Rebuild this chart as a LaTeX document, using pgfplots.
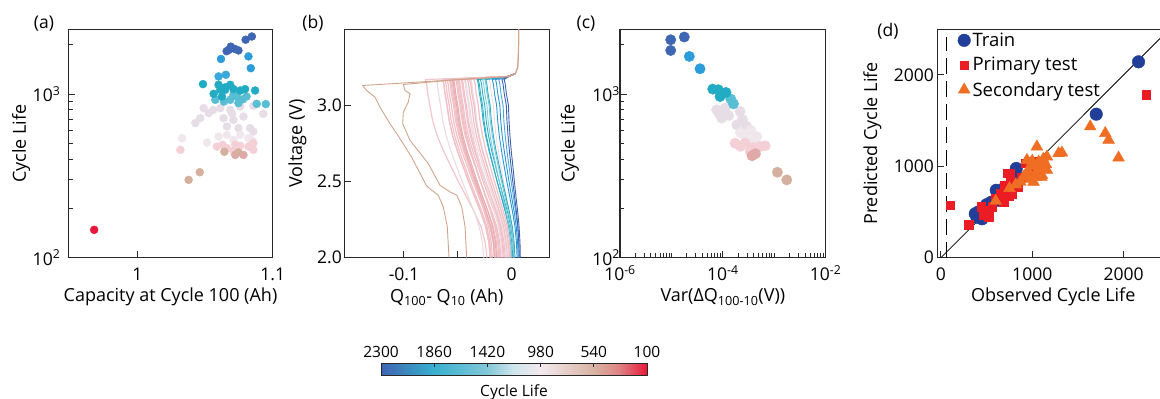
\documentclass[border=0pt]{standalone}
\usepackage{fontspec}
\setmainfont{Open Sans}
\usepackage{pgfplots}
\usepackage{pgfplotstable}
\pgfplotsset{compat=1.18}

\definecolor{cDB}{RGB}{63,102,178}
\definecolor{cB}{RGB}{44,156,218}
\definecolor{cBtwo}{RGB}{58,168,218}
\definecolor{cT}{RGB}{34,172,196}
\definecolor{cLT}{RGB}{88,190,212}
\definecolor{cLav}{RGB}{231,221,231}
\definecolor{cWh}{RGB}{240,231,237}
\definecolor{cPk}{RGB}{244,207,214}
\definecolor{cRose}{RGB}{224,168,166}
\definecolor{cTan}{RGB}{213,176,158}
\definecolor{cRed}{RGB}{232,23,59}
\definecolor{lPkL}{RGB}{241,198,204}
\definecolor{lPale}{RGB}{238,220,226}
\definecolor{lPk}{RGB}{242,192,199}
\definecolor{lRose}{RGB}{232,176,178}
\definecolor{lT}{RGB}{43,174,198}
\definecolor{lLT}{RGB}{125,202,217}
\definecolor{lB}{RGB}{42,148,212}
\definecolor{lLB}{RGB}{74,168,220}
\definecolor{lDB}{RGB}{60,99,176}
\definecolor{lBr}{RGB}{210,164,140}
\definecolor{dTrain}{RGB}{33,63,153}
\definecolor{dPrim}{RGB}{236,28,36}
\definecolor{dSec}{RGB}{240,110,35}
\definecolor{frame}{RGB}{40,40,40}

\pgfplotstableread{
V c1 c2 c3 c4 c5 c6 c7 c8 c9 c10 c11 c12 c13 c14 c15 c16 c17 c18 c19 c20 c21 c22 c23 c24 c25
3.50 0.0065 0.0065 0.0065 0.0065 0.0065 0.0065 0.0065 0.0065 0.0065 0.0065 0.0065 0.0065 0.0065 0.0065 0.0065 0.0065 0.0065 0.0065 0.0065 0.0065 0.0065 0.0065 0.0065 0.0065 0.0065
3.35 0.0063 0.0063 0.0063 0.0063 0.0063 0.0063 0.0063 0.0063 0.0063 0.0063 0.0063 0.0063 0.0063 0.0063 0.0063 0.0063 0.0063 0.0063 0.0063 0.0063 0.0063 0.0063 0.0063 0.0063 0.0063
3.25 0.0056 0.0056 0.0056 0.0056 0.0056 0.0056 0.0056 0.0056 0.0056 0.0056 0.0056 0.0056 0.0056 0.0056 0.0056 0.0056 0.0056 0.0056 0.0056 0.0056 0.0056 0.0056 0.0056 0.0056 0.0056
3.21 0.0035 0.0035 0.0035 0.0035 0.0035 0.0035 0.0035 0.0035 0.0035 0.0035 0.0035 0.0035 0.0035 0.0035 0.0035 0.0035 0.0035 0.0035 0.0035 0.0035 0.0035 0.0035 0.0035 0.0035 0.0035
3.19 -0.003 -0.003 -0.003 -0.003 -0.003 -0.003 -0.003 -0.003 -0.003 -0.003 -0.003 -0.003 -0.003 -0.003 -0.003 -0.003 -0.003 -0.003 -0.003 -0.003 -0.003 -0.003 -0.003 -0.003 -0.003
3.17 -0.080 -0.070 -0.064 -0.060 -0.057 -0.054 -0.052 -0.049 -0.046 -0.044 -0.041 -0.038 -0.035 -0.032 -0.029 -0.027 -0.024 -0.021 -0.018 -0.015 -0.012 -0.009 -0.007 -0.056 -0.050
3.14 -0.079 -0.069 -0.063 -0.059 -0.056 -0.053 -0.051 -0.048 -0.045 -0.043 -0.040 -0.037 -0.034 -0.031 -0.028 -0.026 -0.023 -0.020 -0.017 -0.014 -0.011 -0.008 -0.006 -0.055 -0.049
3.08 -0.078 -0.068 -0.062 -0.058 -0.055 -0.052 -0.050 -0.047 -0.044 -0.042 -0.039 -0.036 -0.033 -0.030 -0.027 -0.025 -0.022 -0.019 -0.016 -0.013 -0.010 -0.007 -0.005 -0.054 -0.048
3.00 -0.076 -0.066 -0.060 -0.056 -0.053 -0.050 -0.048 -0.045 -0.042 -0.040 -0.037 -0.034 -0.031 -0.028 -0.025 -0.023 -0.020 -0.017 -0.014 -0.011 -0.008 -0.005 -0.003 -0.052 -0.046
2.90 -0.0734 -0.064 -0.058 -0.054 -0.051 -0.0482 -0.0461 -0.0432 -0.0402 -0.0385 -0.0354 -0.0325 -0.0295 -0.0266 -0.0237 -0.0219 -0.0189 -0.016 -0.013 -0.0102 -0.0073 -0.0044 -0.0025 -0.0503 -0.0443
2.80 -0.0691 -0.0608 -0.0548 -0.0508 -0.0478 -0.0453 -0.0431 -0.0402 -0.0373 -0.036 -0.0327 -0.030 -0.0271 -0.0242 -0.0215 -0.020 -0.017 -0.0145 -0.0115 -0.0088 -0.006 -0.0034 -0.0016 -0.0476 -0.0416
2.70 -0.0633 -0.0564 -0.0504 -0.0464 -0.0434 -0.0414 -0.0389 -0.0361 -0.0334 -0.0326 -0.0291 -0.0266 -0.0238 -0.021 -0.0185 -0.0175 -0.0145 -0.0124 -0.0094 -0.0069 -0.0044 -0.0021 -0.0004 -0.0438 -0.0378
2.60 -0.0564 -0.0512 -0.0452 -0.0412 -0.0382 -0.0367 -0.0339 -0.0313 -0.0287 -0.0285 -0.0248 -0.0225 -0.0199 -0.0173 -0.015 -0.0145 -0.0115 -0.010 -0.007 -0.0047 -0.0025 -0.0006 0.0011 -0.0394 -0.0334
2.50 -0.0495 -0.046 -0.040 -0.036 -0.033 -0.032 -0.029 -0.0265 -0.024 -0.0245 -0.0205 -0.0185 -0.016 -0.0135 -0.0115 -0.0115 -0.0085 -0.0075 -0.0045 -0.0025 -0.0005 0.001 0.0025 -0.035 -0.029
2.40 -0.0421 -0.0404 -0.0344 -0.0304 -0.0274 -0.027 -0.0237 -0.0213 -0.019 -0.0202 -0.0159 -0.0142 -0.0118 -0.0094 -0.0077 -0.0083 -0.0053 -0.0048 -0.0018 -0.0001 0.0016 0.0027 0.004 -0.0302 -0.0242
2.30 -0.0347 -0.0348 -0.0288 -0.0248 -0.0218 -0.0219 -0.0184 -0.0161 -0.0139 -0.0158 -0.0113 -0.0098 -0.0076 -0.0054 -0.0039 -0.0051 -0.0021 -0.0022 0.0008 0.0023 0.0037 0.0044 0.0056 -0.0255 -0.0195
2.20 -0.0283 -0.030 -0.024 -0.020 -0.017 -0.0176 -0.0138 -0.0117 -0.0096 -0.0121 -0.0073 -0.0061 -0.004 -0.0019 -0.0007 -0.0023 0.0007 0.0001 0.0031 0.0043 0.0055 0.0058 0.0069 -0.0214 -0.0154
2.10 -0.0246 -0.0272 -0.0212 -0.0172 -0.0142 -0.0151 -0.0111 -0.0091 -0.0071 -0.0099 -0.005 -0.0039 -0.0019 0.0001 0.0012 -0.0007 0.0023 0.0014 0.0044 0.0055 0.0066 0.0066 0.0077 -0.019 -0.013
2.00 -0.023 -0.026 -0.020 -0.016 -0.013 -0.014 -0.010 -0.008 -0.006 -0.009 -0.004 -0.003 -0.001 0.001 0.002 0.000 0.003 0.002 0.005 0.006 0.007 0.007 0.008 -0.018 -0.012
}\curves

\pgfplotstableread{
V d26 d27 d28 d29 d30 d31 d32 d33 d34
3.50 0.0065 0.0065 0.0065 0.0065 0.0065 0.0065 0.0065 0.0065 0.0065
3.35 0.0063 0.0063 0.0063 0.0063 0.0063 0.0063 0.0063 0.0063 0.0063
3.25 0.0056 0.0056 0.0056 0.0056 0.0056 0.0056 0.0056 0.0056 0.0056
3.21 0.0035 0.0035 0.0035 0.0035 0.0035 0.0035 0.0035 0.0035 0.0035
3.19 -0.003 -0.003 -0.003 -0.003 -0.003 -0.003 -0.003 -0.003 -0.003
3.17 -0.062 -0.058 -0.055 -0.051 -0.047 -0.043 -0.039 -0.031 -0.025
3.14 -0.061 -0.057 -0.054 -0.050 -0.046 -0.042 -0.038 -0.030 -0.024
3.08 -0.060 -0.056 -0.053 -0.049 -0.045 -0.041 -0.037 -0.029 -0.023
3.00 -0.058 -0.054 -0.051 -0.047 -0.043 -0.039 -0.035 -0.027 -0.021
2.90 -0.0561 -0.0521 -0.0493 -0.0452 -0.0412 -0.0373 -0.0334 -0.0257 -0.0199
2.80 -0.0529 -0.0489 -0.0465 -0.0423 -0.0383 -0.0346 -0.0307 -0.0235 -0.018
2.70 -0.0486 -0.0446 -0.0426 -0.0384 -0.0344 -0.0308 -0.0271 -0.0205 -0.0155
2.60 -0.0436 -0.0396 -0.0381 -0.0337 -0.0297 -0.0264 -0.0228 -0.017 -0.0125
2.50 -0.0385 -0.0345 -0.0335 -0.029 -0.025 -0.022 -0.0185 -0.0135 -0.0095
2.40 -0.0330 -0.0290 -0.0286 -0.024 -0.020 -0.0172 -0.0139 -0.0097 -0.0063
2.30 -0.0276 -0.0236 -0.0237 -0.0189 -0.0149 -0.0125 -0.0093 -0.0059 -0.0031
2.20 -0.0229 -0.0189 -0.0195 -0.0146 -0.0106 -0.0084 -0.0053 -0.0027 -0.0003
2.10 -0.0202 -0.0162 -0.0170 -0.0121 -0.0081 -0.006 -0.003 -0.0008 0.0013
2.00 -0.019 -0.015 -0.016 -0.011 -0.007 -0.005 -0.002 0.000 0.002
}\curvesb

\pgfplotsset{
  myax/.style={
    scale only axis, anchor=south west,
    axis line style={frame, line width=1.1pt},
    tick style={frame, line width=1pt},
    tick align=inside, tick pos=left,
    major tick length=7pt, minor tick length=4.5pt,
    tick label style={font=\fontsize{17.5}{19}\selectfont, text=black},
    label style={font=\fontsize{18}{21}\selectfont},
    xticklabel style={anchor=base, yshift=-23pt},
    xlabel style={at={(axis description cs:0.5,-0.172)}, anchor=center},
  },
  lc/.style={line width=0.9pt, #1, restrict y to domain=1.9:3.22},
  lp/.style={line width=1.2pt, #1, restrict y to domain=1.9:3.22},
}

\begin{document}
\begin{tikzpicture}
\useasboundingbox (0,0) rectangle (1160pt,399pt);

% ---------------- (a)
\begin{axis}[myax, at={(68.3pt,141.3pt)}, width=204.4pt, height=228.4pt,
  xmin=0.949, xmax=1.1, ymode=log, ymin=100, ymax=2490,
  xtick={1,1.1}, xticklabels={1,1.1},
  ytick={100,1000}, yticklabels={10\textsuperscript{2},10\textsuperscript{3}},
  minor ytick={200,300,400,500,600,700,800,900,2000},
  yticklabel style={xshift=-4.5pt},
  xlabel={Capacity at Cycle 100 (Ah)}, ylabel={Cycle Life},
  ylabel style={at={(axis description cs:-0.231,0.5)}, anchor=center},
]
\addplot[only marks, mark=*, mark size=4pt, color=cLav] coordinates {
(1.0490,821) (1.0527,765) (1.0613,821) (1.0686,802) (1.0760,840) (1.0857,848) (1.0931,758) (1.0465,713) (1.0429,665) (1.0637,713) (1.0710,696) (1.0784,729) (1.0833,620) (1.0747,620) (1.0662,634) (1.0857,590) (1.0560,800) (1.0700,760)};
\addplot[only marks, mark=*, mark size=4pt, color=cWh] coordinates {
(1.0600,550) (1.0662,563) (1.0760,563) (1.0821,538) (1.0515,506) (1.0331,538) (1.0710,525) (1.0850,520)};
\addplot[only marks, mark=*, mark size=4pt, color=cPk] coordinates {
(1.0318,456) (1.0588,478) (1.0662,467) (1.0723,490) (1.0760,483) (1.0821,478) (1.0857,501) (1.0857,456) (1.0710,452) (1.0630,490)};
\addplot[only marks, mark=*, mark size=4pt, color=cRose] coordinates {(1.0723,425) (1.0784,425)};
\addplot[only marks, mark=*, mark size=4pt, color=cTan] coordinates {(1.0643,444) (1.0747,440) (1.0461,333) (1.0379,299)};
\addplot[only marks, mark=*, mark size=4pt, color=cLT] coordinates {
(1.0710,990) (1.0807,967) (1.0735,967) (1.0686,923) (1.0576,923) (1.0747,881) (1.0882,872) (1.0949,869) (1.0780,930) (1.0640,900)};
\addplot[only marks, mark=*, mark size=4pt, color=cT] coordinates {
(1.0485,1151) (1.0600,1140) (1.0613,1063) (1.0686,1140) (1.0710,1073) (1.0649,1063) (1.0760,1052) (1.0796,1073) (1.0870,1052) (1.0564,1004) (1.0625,967) (1.0650,1100)};
\addplot[only marks, mark=*, mark size=4pt, color=cBtwo] coordinates {(1.0600,1282) (1.0654,1313)};
\addplot[only marks, mark=*, mark size=4pt, color=cB] coordinates {(1.0821,1700) (1.0618,1640) (1.0838,1440)};
\addplot[only marks, mark=*, mark size=4pt, color=cDB] coordinates {
(1.0846,2250) (1.0800,2150) (1.0690,1950) (1.0674,1860) (1.0720,1890) (1.0747,1850) (1.0660,1830)};
\addplot[only marks, mark=*, mark size=4pt, color=cRed] coordinates {(0.9681,148)};
\end{axis}

% ---------------- (b)
\begin{axis}[myax, at={(344.3pt,141.3pt)}, width=205pt, height=228.4pt,
  xmin=-0.1554, xmax=0.0349, ymin=2, ymax=3.5,
  xtick={-0.1,-0.05,0}, xticklabels={-0.1,,0},
  ytick={2,2.5,3}, yticklabels={2.0,2.5,3.0},
  yticklabel style={xshift=1pt},
  xlabel={Q\textsubscript{100}- Q\textsubscript{10} (Ah)}, ylabel={Voltage (V)},
  ylabel style={at={(axis description cs:-0.229,0.5)}, anchor=center},
]
\addplot[lp=lPkL] table[x=c1,y=V] {\curves};
\addplot[lp=lPale] table[x=c2,y=V] {\curves};
\addplot[lp=lPk] table[x=c3,y=V] {\curves};
\addplot[lp=lPk] table[x=d26,y=V] {\curvesb};
\addplot[lp=lPk] table[x=c4,y=V] {\curves};
\addplot[lp=lPk] table[x=c24,y=V] {\curves};
\addplot[lp=lPk] table[x=d27,y=V] {\curvesb};
\addplot[lp=lPk] table[x=c5,y=V] {\curves};
\addplot[lp=lRose] table[x=d28,y=V] {\curvesb};
\addplot[lp=lRose] table[x=c6,y=V] {\curves};
\addplot[lp=lPk] table[x=c7,y=V] {\curves};
\addplot[lp=lPk] table[x=d29,y=V] {\curvesb};
\addplot[lp=lPk] table[x=c25,y=V] {\curves};
\addplot[lp=lPk] table[x=c8,y=V] {\curves};
\addplot[lp=lPk] table[x=d30,y=V] {\curvesb};
\addplot[lp=lPk] table[x=c9,y=V] {\curves};
\addplot[lp=lPale] table[x=c10,y=V] {\curves};
\addplot[lp=lPale] table[x=d31,y=V] {\curvesb};
\addplot[lp=lPk] table[x=c11,y=V] {\curves};
\addplot[lp=lPale] table[x=c12,y=V] {\curves};
\addplot[lp=lPk] table[x=d32,y=V] {\curvesb};
\addplot[lp=lPk] table[x=c13,y=V] {\curves};
\addplot[lc=lPale] table[x=c18,y=V] {\curves};
\addplot[lc=lT] table[x=c14,y=V] {\curves};
\addplot[lc=lT] table[x=d33,y=V] {\curvesb};
\addplot[lc=lT] table[x=c15,y=V] {\curves};
\addplot[lc=lLT] table[x=c16,y=V] {\curves};
\addplot[lc=lLT] table[x=d34,y=V] {\curvesb};
\addplot[lc=lT] table[x=c17,y=V] {\curves};
\addplot[lc=lB] table[x=c19,y=V] {\curves};
\addplot[lc=lB] table[x=c20,y=V] {\curves};
\addplot[lc=lLB] table[x=c21,y=V] {\curves};
\addplot[lc=lDB] table[x=c22,y=V] {\curves};
\addplot[lc=lDB] table[x=c23,y=V] {\curves};
\addplot[line width=1.1pt, color=lPk] table[x=c3,y=V] {\curves};
\addplot[line width=0.9pt, color=lBr] coordinates {
(0.0065,3.5) (0.0063,3.35) (0.0056,3.25) (0.0035,3.21) (-0.003,3.19) (-0.06,3.165) (-0.1384,3.131) (-0.1347,3.098) (-0.1269,3.054) (-0.1238,3.011) (-0.1223,2.989) (-0.113,2.88) (-0.1053,2.80) (-0.0929,2.66) (-0.0789,2.47) (-0.0682,2.41) (-0.0635,2.334) (-0.0598,2.203) (-0.0582,2.0)};
\addplot[line width=0.9pt, color=lBr] coordinates {
(0.0065,3.5) (0.0063,3.35) (0.0056,3.25) (0.0035,3.21) (-0.003,3.19) (-0.05,3.17) (-0.1006,3.1375) (-0.0991,3.098) (-0.0944,3.077) (-0.096,3.022) (-0.1006,2.956) (-0.1012,2.88) (-0.0944,2.771) (-0.0774,2.618) (-0.0666,2.476) (-0.0573,2.432) (-0.051,2.411) (-0.0464,2.334) (-0.0433,2.203) (-0.0418,2.0)};
\end{axis}

% ---------------- (c)
\begin{axis}[myax, at={(620pt,141.3pt)}, width=205.7pt, height=228.4pt,
  xmode=log, ymode=log, xmin=1e-6, xmax=1e-2, ymin=100, ymax=2490,
  xtick={1e-6,1e-4,1e-2}, xticklabels={10\textsuperscript{-6},10\textsuperscript{-4},10\textsuperscript{-2}},
  minor xtick={2e-6,3e-6,4e-6,5e-6,6e-6,7e-6,8e-6,9e-6,1e-5,2e-5,3e-5,4e-5,5e-5,6e-5,7e-5,8e-5,9e-5,2e-4,3e-4,4e-4,5e-4,6e-4,7e-4,8e-4,9e-4,1e-3,2e-3,3e-3,4e-3,5e-3,6e-3,7e-3,8e-3,9e-3},
  ytick={100,1000}, yticklabels={10\textsuperscript{2},10\textsuperscript{3}},
  minor ytick={200,300,400,500,600,700,800,900,2000},
  yticklabel style={xshift=3.5pt},
  xlabel={Var(ΔQ\textsubscript{100-10}(V))}, ylabel={Cycle Life},
  ylabel style={at={(axis description cs:-0.243,0.5)}, anchor=center},
]
\addplot[only marks, mark=*, mark size=5.2pt, color=cLav] coordinates {
(7.6e-5,802) (2.16e-4,783) (9.5e-5,713) (1.87e-4,649) (2.92e-4,634) (8.5e-5,760) (1.3e-4,740) (2.4e-4,700) (1.1e-4,820)};
\addplot[only marks, mark=*, mark size=5.2pt, color=cWh] coordinates {
(2.70e-4,563) (4.57e-4,550) (3.5e-4,600) (2.2e-4,580) (4.0e-4,520)};
\addplot[only marks, mark=*, mark size=5.2pt, color=cPk] coordinates {
(1.73e-4,501) (2.70e-4,501) (5.30e-4,478) (6.64e-4,483) (3.39e-4,446) (3.9e-4,470) (2.2e-4,480)};
\addplot[only marks, mark=*, mark size=5.2pt, color=cRose] coordinates {(4.3e-4,432) (3.7e-4,420)};
\addplot[only marks, mark=*, mark size=5.2pt, color=cTan] coordinates {(1.15e-3,333) (1.75e-3,299)};
\addplot[only marks, mark=*, mark size=5.2pt, color=cLT] coordinates {(1.43e-4,932) (1.61e-4,872)};
\addplot[only marks, mark=*, mark size=5.2pt, color=cT] coordinates {(6.37e-5,1073) (8.17e-5,1063) (1.15e-4,1023) (8.83e-5,967)};
\addplot[only marks, mark=*, mark size=5.2pt, color=cB] coordinates {(2.23e-5,1700) (3.60e-5,1429)};
\addplot[only marks, mark=*, mark size=5.2pt, color=cDB] coordinates {(9.68e-6,2148) (1.78e-5,2234) (9.68e-6,1849)};
\end{axis}

% ---------------- (d)
\begin{axis}[myax, at={(937.3pt,141.3pt)}, width=231.9pt, height=228.4pt,
  xmin=-40, xmax=2500, ymin=0, ymax=2500,
  xtick={0,1000,2000}, xticklabels={0,1000,2000},
  ytick={0,1000,2000}, yticklabels={0,1000,2000},
  yticklabel style={xshift=0pt},
  xlabel={Observed Cycle Life}, ylabel={Predicted Cycle Life},
  ylabel style={at={(axis description cs:-0.280,0.5)}, anchor=center},
  legend style={at={(axis description cs:0.075,1.003)}, anchor=north west, draw=none, fill=none,
    font=\fontsize{18.5}{20}\selectfont, row sep=5.5pt},
  legend cell align=left,
]
\addplot[black, line width=0.8pt, dash pattern=on 16pt off 7pt, forget plot] coordinates {(55,0) (55,2420)};
\addplot[black, line width=0.8pt, forget plot] coordinates {(0,0) (2500,2500)};
\addplot[only marks, mark=*, mark size=6.3pt, color=dTrain] coordinates {
(2164,2144) (1701,1571) (825,977) (861,867) (606,738) (631,628) (559,609) (467,536) (430,481) (394,444) (449,426) (376,481) (500,580) (410,500) (700,770) (540,600) (420,450)};
\addlegendentry{Train}
\addplot[only marks, mark=square*, mark size=4.2pt, color=dPrim] coordinates {
(102,573) (2249,1784) (302,363) (467,463) (521,518) (686,609) (650,701) (693,793) (759,922) (839,774) (960,1050) (997,939) (1051,1050) (723,922) (759,829) (832,793) (923,1032) (521,444) (440,560) (600,650) (880,880) (780,700) (1000,1000) (560,560) (980,920) (740,680)};
\addlegendentry{Primary test}
\addplot[only marks, mark=triangle*, mark size=6.8pt, color=dSec] coordinates {
(1635,1435) (1800,1362) (1836,1289) (1945,1094) (1051,1215) (1288,1142) (1325,1149) (1161,1105) (1142,977) (1014,829) (905,884) (1106,903) (942,1068) (1000,1000) (1070,1050) (1100,880) (1150,1020) (980,860) (1050,950) (1120,1080) (870,830) (820,800) (1000,1060) (950,950) (750,760) (600,620) (1080,1000) (1040,880) (1160,960) (960,900)};
\addlegendentry{Secondary test}
\end{axis}

% ---------------- colour bar
\begin{axis}[scale only axis, anchor=south west, at={(381pt,24pt)}, width=266pt, height=12pt,
  xmin=100, xmax=2300, ymin=0, ymax=1, x dir=reverse,
  axis line style={frame, line width=0.9pt},
  xtick={2300,1860,1420,980,540,100}, xticklabels={2300,1860,1420,980,540,100},
  xtick pos=upper, xticklabel pos=upper, ytick=\empty,
  tick align=inside, major tick length=4pt, tick style={frame, line width=0.8pt},
  xticklabel style={font=\fontsize{15.5}{17}\selectfont, anchor=base, yshift=5.5pt},
  xlabel={Cycle Life},
  xlabel style={font=\fontsize{15.5}{17}\selectfont, at={(axis description cs:0.5,0)}, anchor=base, yshift=-22pt},
  colormap={cl}{rgb255(100)=(232,24,58) rgb255(330)=(222,132,132) rgb255(540)=(216,178,162) rgb255(980)=(243,233,238) rgb255(1200)=(208,230,236) rgb255(1420)=(130,200,217) rgb255(1860)=(56,176,206) rgb255(2300)=(62,100,178)},
  point meta min=100, point meta max=2300, axis on top,
]
\addplot[surf, shader=interp, point meta=x, mesh/cols=8] coordinates {
(100,0) (330,0) (540,0) (980,0) (1200,0) (1420,0) (1860,0) (2300,0)
(100,1) (330,1) (540,1) (980,1) (1200,1) (1420,1) (1860,1) (2300,1)};
\end{axis}

% panel letters
\node[font=\fontsize{17.5}{20}\selectfont] at (44pt,375.5pt) {(a)};
\node[font=\fontsize{17.5}{20}\selectfont] at (313pt,375.5pt) {(b)};
\node[font=\fontsize{17.5}{20}\selectfont] at (586pt,375.5pt) {(c)};
\node[font=\fontsize{17.5}{20}\selectfont] at (888pt,367.5pt) {(d)};
\end{tikzpicture}
\end{document}
